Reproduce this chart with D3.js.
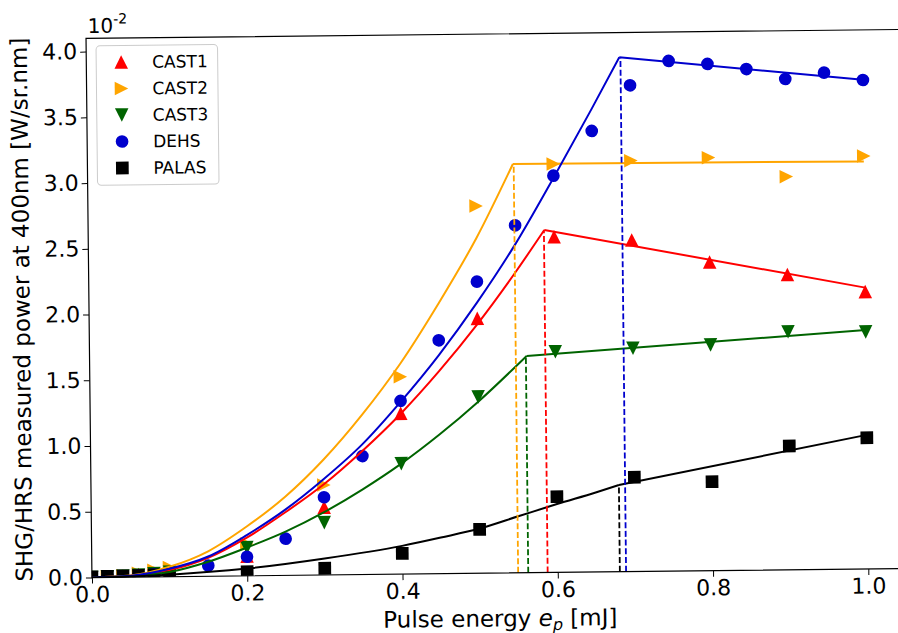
<!DOCTYPE html>
<html><head><meta charset="utf-8">
<script src="https://cdn.jsdelivr.net/npm/d3@7"></script>
<style>body{margin:0;background:#fff}svg{display:block}text{font-family:"DejaVu Sans",sans-serif}</style>
</head><body><svg id="c" width="898" height="633"></svg>
<script>
// ---- data (y values in units of 1e-2 W/sr.nm) ----
const cast1X = [0,0.02,0.04,0.06,0.08,0.1,0.2,0.3,0.4,0.5,0.6,0.7,0.8,0.9,1.0];
const cast1Y = [0,0.005,0.01,0.02,0.03,0.04,0.15,0.515,1.223,1.939,2.553,2.522,2.348,2.246,2.11];
const cast2X = [0,0.02,0.04,0.06,0.08,0.1,0.2,0.3,0.4,0.5,0.6,0.7,0.8,0.9,1.0];
const cast2Y = [0,0.005,0.012,0.03,0.05,0.07,0.242,0.684,1.501,2.793,3.106,3.125,3.141,2.99,3.141];
const cast3X = [0,0.02,0.04,0.06,0.08,0.1,0.2,0.3,0.4,0.5,0.6,0.7,0.8,0.9,1.0];
const cast3Y = [0,0.004,0.008,0.015,0.025,0.035,0.214,0.398,0.84,1.341,1.678,1.698,1.717,1.81,1.803];
const dehsX = [0,0.02,0.04,0.06,0.08,0.1,0.15,0.2,0.25,0.3,0.35,0.4,0.45,0.5,0.55,0.6,0.65,0.7,0.75,0.8,0.85,0.9,0.95,1.0];
const dehsY = [0,0.003,0.006,0.01,0.02,0.03,0.081,0.145,0.279,0.591,0.901,1.318,1.775,2.218,2.643,3.017,3.354,3.698,3.88,3.854,3.812,3.733,3.778,3.719];
const palasX = [0,0.02,0.04,0.06,0.08,0.1,0.2,0.3,0.4,0.5,0.6,0.7,0.8,0.9,1.0];
const palasY = [0.005,0.008,0.01,0.012,0.015,0.02,0.031,0.051,0.158,0.334,0.576,0.717,0.677,0.942,0.998];

// fitted curves (rising part up to the threshold; last point = end of straight tail)
const fit1X = [0,0.05,0.1,0.15,0.2,0.25,0.3,0.35,0.4,0.45,0.5,0.55,0.5875,1.0];
const fit1Y = [0,0.01,0.05,0.14,0.29,0.48,0.69,0.94,1.22,1.54,1.895,2.288,2.605,2.14];
const fit2X = [0,0.05,0.1,0.15,0.2,0.25,0.3,0.35,0.4,0.45,0.5,0.548,1.0];
const fit2Y = [0,0.012,0.075,0.19,0.375,0.598,0.878,1.214,1.60,2.053,2.55,3.11,3.10];
const fit3X = [0,0.05,0.1,0.15,0.2,0.25,0.3,0.35,0.4,0.45,0.5,0.563,1.0];
const fit3Y = [0,0.008,0.035,0.11,0.215,0.333,0.478,0.648,0.84,1.06,1.305,1.649,1.817];
const fitDX = [0,0.05,0.1,0.15,0.2,0.25,0.3,0.35,0.4,0.45,0.5,0.55,0.6,0.65,0.6865,1.0];
const fitDY = [0,0.01,0.06,0.15,0.31,0.50,0.73,0.99,1.31,1.663,2.06,2.50,3.00,3.52,3.912,3.72];
const fitPX = [0,0.1,0.2,0.3,0.4,0.45,0.5,0.55,0.6,0.65,0.68,1.0];
const fitPY = [0,0.015,0.055,0.125,0.215,0.275,0.34,0.43,0.52,0.605,0.66,1.02];

// threshold (dashed) lines: x position and top value
const vlineX = [0.587,0.549,0.562,0.688,0.680];
const vlineTop = [2.605,3.11,1.649,3.912,0.66];

const names = ["CAST1","CAST2","CAST3","DEHS","PALAS"];
const colors = ["#ff0000","#ffa500","#006400","#0000cd","#000000"];
const shapes = ["up","right","down","circle","square"];
const xTicks = [0,0.2,0.4,0.6,0.8,1.0];
const yTicks = [0,0.5,1,1.5,2,2.5,3,3.5,4];

// ---- drawing ----
const svg = d3.select("#c");
svg.append("rect").attr("width",898).attr("height",633).attr("fill","#fff");
const root = svg.append("g").attr("transform","rotate(-0.63,449,316)");

const x = d3.scaleLinear().domain([0,1.05]).range([89.1,904.3]);
const y = d3.scaleLinear().domain([0,4.1]).range([573.6,34.45]);

const defs = svg.append("defs");
defs.append("clipPath").attr("id","clip").append("rect")
  .attr("x",x(0)).attr("y",y(4.1)).attr("width",x(1.05)-x(0)).attr("height",y(0)-y(4.1));

const series = [
  {xs:cast1X, ys:cast1Y, fx:fit1X, fy:fit1Y},
  {xs:cast2X, ys:cast2Y, fx:fit2X, fy:fit2Y},
  {xs:cast3X, ys:cast3Y, fx:fit3X, fy:fit3Y},
  {xs:dehsX, ys:dehsY, fx:fitDX, fy:fitDY},
  {xs:palasX, ys:palasY, fx:fitPX, fy:fitPY}
];

function markerPath(shape, s){
  const h=s/2;
  if(shape==="up") return `M0,${-h}L${-h},${h}L${h},${h}Z`;
  if(shape==="down") return `M0,${h}L${-h},${-h}L${h},${-h}Z`;
  if(shape==="right") return `M${h},0L${-h},${-h}L${-h},${h}Z`;
  if(shape==="square"){const q=s*0.47;return `M${-q},${-q}H${q}V${q}H${-q}Z`;}
  const r=s*0.47; return `M${r},0A${r},${r} 0 1,1 ${-r},0A${r},${r} 0 1,1 ${r},0Z`;
}

const plot = root.append("g").attr("clip-path","url(#clip)");
const MS = 13.5;
const curve = d3.line().x(d=>x(d[0])).y(d=>y(d[1])).curve(d3.curveMonotoneX);
const straight = d3.line().x(d=>x(d[0])).y(d=>y(d[1]));

series.forEach((s,i)=>{
  plot.append("g").selectAll("path").data(d3.zip(s.xs,s.ys)).join("path")
    .attr("transform",d=>`translate(${x(d[0])},${y(d[1])})`)
    .attr("d",markerPath(shapes[i],MS)).attr("fill",colors[i]);
});
series.forEach((s,i)=>{
  const pts = d3.zip(s.fx,s.fy);
  const rise = pts.slice(0,-1), tail = pts.slice(-2);
  const g = plot.append("g").attr("fill","none").attr("stroke",colors[i]).attr("stroke-width",2)
    .attr("stroke-linejoin","round");
  g.append("path").attr("d",curve(rise));
  g.append("path").attr("d",straight(tail));
});
vlineX.forEach((v,i)=>{
  plot.append("line").attr("x1",x(v)).attr("x2",x(v)).attr("y1",y(0)).attr("y2",y(vlineTop[i]))
    .attr("stroke",colors[i]).attr("stroke-width",1.8).attr("stroke-dasharray","6,2.7");
});

// axes
const xa = root.append("g").attr("transform",`translate(0,${y(0)})`)
  .call(d3.axisBottom(x).tickValues(xTicks).tickFormat(d3.format(".1f")).tickSize(6).tickPadding(3));
const ya = root.append("g").attr("transform",`translate(${x(0)},0)`)
  .call(d3.axisLeft(y).tickValues(yTicks).tickFormat(d3.format(".1f")).tickSize(6).tickPadding(3));
[xa,ya].forEach(a=>{
  a.select(".domain").remove();
  a.selectAll("text").attr("font-size",22).attr("fill","#000").attr("font-family","DejaVu Sans");
  a.selectAll("line").attr("stroke","#000").attr("stroke-width",1);
});
// spines
const sp = root.append("g").attr("stroke","#000").attr("stroke-width",1.2).attr("fill","none");
sp.append("rect").attr("x",x(0)).attr("y",y(4.1)).attr("width",x(1.05)-x(0)).attr("height",y(0)-y(4.1));

// offset text 10^-2
const off = root.append("text").attr("x",91).attr("y",29).attr("font-size",20).attr("fill","#000");
off.append("tspan").text("10");
off.append("tspan").attr("dy",-9).attr("font-size",14).text("-2");

// axis labels
const xl = root.append("text").attr("x",497).attr("y",627).attr("text-anchor","middle").attr("font-size",23).attr("fill","#000");
xl.append("tspan").text("Pulse energy ");
xl.append("tspan").attr("font-style","italic").text("e");
xl.append("tspan").attr("font-style","italic").attr("font-size",16).attr("dy",4).text("p");
xl.append("tspan").attr("dy",-4).text(" [mJ]");
root.append("text").attr("transform","translate(29.7,305) rotate(-90)").attr("text-anchor","middle")
  .attr("font-size",23).attr("fill","#000").text("SHG/HRS measured power at 400nm [W/sr.nm]");

// legend
const lg = root.append("g");
lg.append("rect").attr("x",99).attr("y",42).attr("width",121.5).attr("height",139.5).attr("rx",4)
  .attr("fill","#fff").attr("fill-opacity",0.8).attr("stroke","#cccccc").attr("stroke-width",1);
names.forEach((n,i)=>{
  const yy = 58.4 + i*26.5;
  lg.append("path").attr("transform",`translate(124,${yy})`).attr("d",markerPath(shapes[i],MS)).attr("fill",colors[i]);
  lg.append("text").attr("x",155).attr("y",yy).attr("dy","0.36em").attr("font-size",17).attr("fill","#000").text(n);
});
</script></body></html>
